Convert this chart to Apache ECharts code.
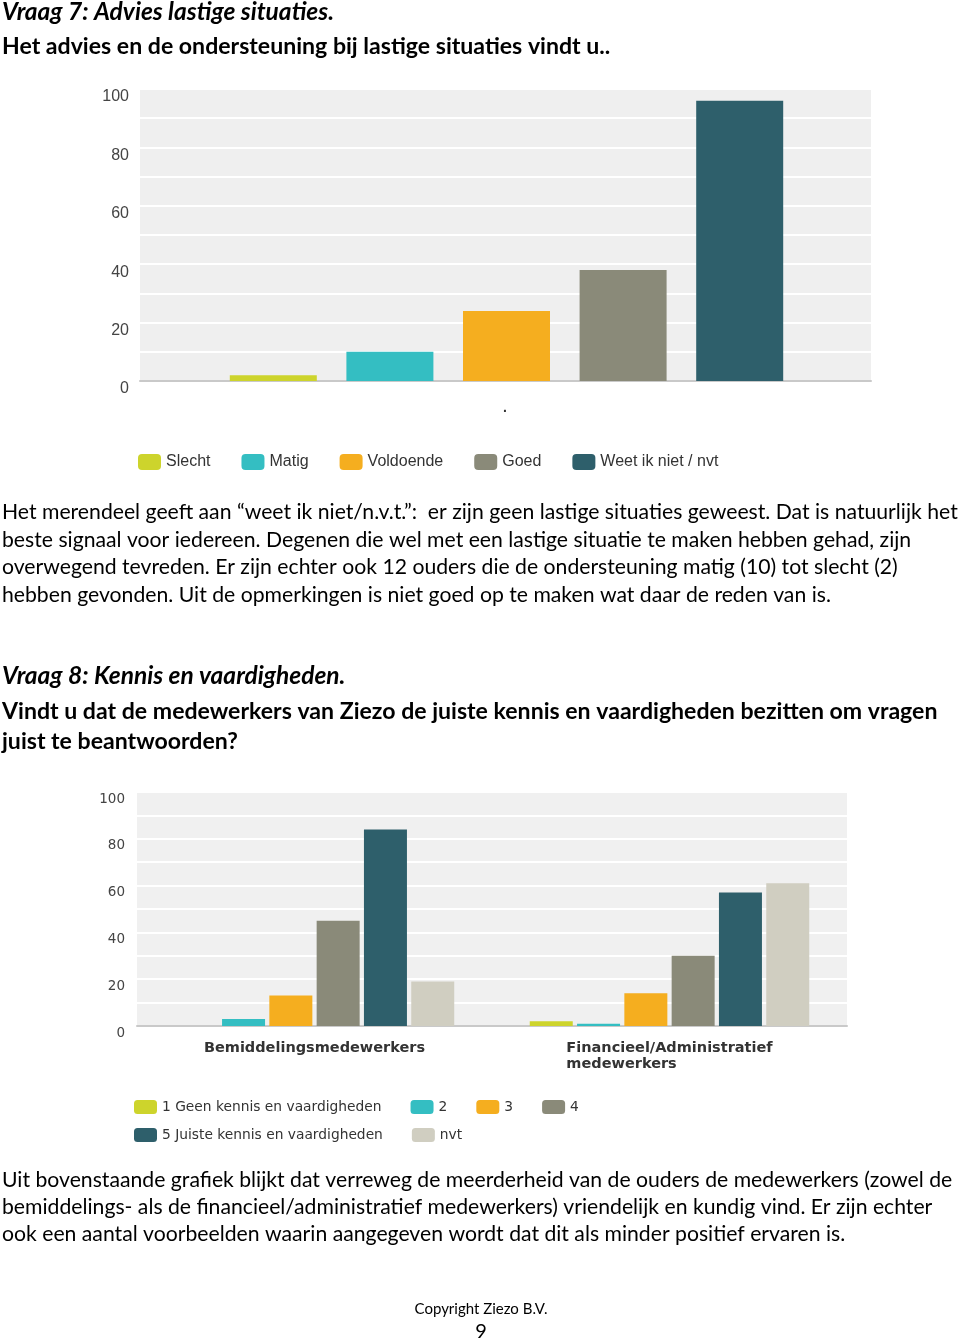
<!DOCTYPE html>
<html>
<head>
<meta charset="utf-8">
<script src="https://cdn.jsdelivr.net/npm/echarts@6/dist/echarts.min.js"></script>
<style>
html,body{margin:0;padding:0;background:#fff;}
#c{width:960px;height:1342px;}
</style>
</head>
<body>
<div id="c"></div>
<script>
// ---- data ----
const q7Categories = ['Slecht', 'Matig', 'Voldoende', 'Goed', 'Weet ik niet / nvt'];
const q7Values = [2, 10, 24, 38, 96];
const q8Groups = ['Bemiddelingsmedewerkers', 'Financieel/Administratief\nmedewerkers'];
const q8SeriesNames = ['1 Geen kennis en vaardigheden', '2', '3', '4', '5 Juiste kennis en vaardigheden', 'nvt'];
const q8Bemiddeling = [0, 3, 13, 45, 84, 19];
const q8Financieel = [2, 1, 14, 30, 57, 61];
const yTickLabels = [0, 20, 40, 60, 80, 100];

// ---- styles ----
const q7Colors = ['#cdd42c', '#34bec2', '#f5ae1f', '#8a8a79', '#2e5f6b'];
const q8Colors = ['#cdd42c', '#34bec2', '#f5ae1f', '#8a8a79', '#2e5f6b', '#d0cec1'];
const BODY = 'Lato';

const chart = echarts.init(document.getElementById('c'), null, {renderer: 'canvas'});

function yAxisCommon(fontFamily, fontSize, gridIndex, show, margin) {
  return {
    type: 'value', gridIndex: gridIndex, min: 0, max: 100, interval: 10,
    show: show,
    axisLine: {show: false}, axisTick: {show: false},
    splitLine: {show: show, lineStyle: {color: '#ffffff', width: 2}},
    axisLabel: {
      show: show, margin: margin,
      verticalAlign: 'top',
      color: '#444',
      fontFamily: fontFamily, fontSize: fontSize,
      formatter: function (v) { return yTickLabels.indexOf(v) >= 0 ? String(v) : ''; }
    }
  };
}

const series = [];
q7Categories.forEach(function (name, i) {
  series.push({
    name: name, type: 'bar', stack: 'q7',
    xAxisIndex: 1, yAxisIndex: 1,
    barWidth: 87,
    itemStyle: {color: q7Colors[i]},
    data: q7Categories.map(function (c, j) { return j === i ? q7Values[i] : '-'; })
  });
});
q8SeriesNames.forEach(function (name, i) {
  series.push({
    name: name, type: 'bar',
    xAxisIndex: 2, yAxisIndex: 2,
    barWidth: 43, barGap: '10%',
    itemStyle: {color: q8Colors[i]},
    data: [q8Bemiddeling[i], q8Financieel[i]]
  });
});

const textLines = [
  {t: 'Vraag 7: Advies lastige situaties.', x: 2, y: 12, k: 'bi'},
  {t: 'Het advies en de ondersteuning bij lastige situaties vindt u..', x: 2, y: 47, k: 'b'},
  {t: 'Het merendeel geeft aan \u201cweet ik niet/n.v.t.\u201d:  er zijn geen lastige situaties geweest. Dat is natuurlijk het', x: 2, y: 512},
  {t: 'beste signaal voor iedereen. Degenen die wel met een lastige situatie te maken hebben gehad, zijn', x: 2, y: 540},
  {t: 'overwegend tevreden. Er zijn echter ook 12 ouders die de ondersteuning matig (10) tot slecht (2)', x: 2, y: 567},
  {t: 'hebben gevonden. Uit de opmerkingen is niet goed op te maken wat daar de reden van is.', x: 2, y: 595},
  {t: 'Vraag 8: Kennis en vaardigheden.', x: 2, y: 676, k: 'bi'},
  {t: 'Vindt u dat de medewerkers van Ziezo de juiste kennis en vaardigheden bezitten om vragen', x: 2, y: 712, k: 'b'},
  {t: 'juist te beantwoorden?', x: 2, y: 742, k: 'b'},
  {t: 'Uit bovenstaande grafiek blijkt dat verreweg de meerderheid van de ouders de medewerkers (zowel de', x: 2, y: 1180},
  {t: 'bemiddelings- als de financieel/administratief medewerkers) vriendelijk en kundig vind. Er zijn echter', x: 2, y: 1207},
  {t: 'ook een aantal voorbeelden waarin aangegeven wordt dat dit als minder positief ervaren is.', x: 2, y: 1234}
];
const fonts = {
  r: 'normal normal 21.2px ' + BODY,
  b: 'normal bold 23.1px ' + BODY,
  bi: 'italic bold 24.5px ' + BODY
};

const graphics = textLines.map(function (l) {
  return {
    type: 'text', x: l.x, y: l.y,
    style: {
      text: l.t, fill: '#000',
      font: fonts[l.k || 'r'],
      textAlign: 'left', textVerticalAlign: 'middle'
    }
  };
});
graphics.push({type: 'text', x: 481, y: 1309, style: {text: 'Copyright Ziezo B.V.', fill: '#000', font: '15px ' + BODY, textAlign: 'center', textVerticalAlign: 'middle'}});
graphics.push({type: 'text', x: 481, y: 1332, style: {text: '9', fill: '#000', font: '20px ' + BODY, textAlign: 'center', textVerticalAlign: 'middle'}});
graphics.push({type: 'text', x: 505, y: 408, style: {text: '.', fill: '#333', font: 'bold 14px Liberation Sans', textAlign: 'center', textVerticalAlign: 'middle'}});

const option = {
  animation: false,
  backgroundColor: '#ffffff',
  grid: [
    {left: 140, top: 89, width: 731, height: 292, show: true, backgroundColor: '#efefef', borderWidth: 0},
    {left: 215, top: 89, width: 583, height: 292},
    {left: 137, top: 792, width: 710, height: 234, show: true, backgroundColor: '#f0f0f0', borderWidth: 0}
  ],
  xAxis: [
    {type: 'category', gridIndex: 0, data: [''], axisTick: {show: false}, axisLabel: {show: false},
     axisLine: {show: true, lineStyle: {color: '#c9c9c9', width: 2}}},
    {type: 'category', gridIndex: 1, data: q7Categories, show: false},
    {type: 'category', gridIndex: 2, data: q8Groups, axisTick: {show: false},
     axisLine: {show: true, lineStyle: {color: '#c9c9c9', width: 2}},
     axisLabel: {
       margin: 14, color: '#333', fontFamily: 'DejaVu Sans', fontWeight: 'bold', fontSize: 14.5,
       formatter: function (v) { return v.split('\n').map(function (s) { return '{l|' + s + '}'; }).join('\n'); },
       rich: {l: {align: 'left', fontFamily: 'DejaVu Sans', fontWeight: 'bold', fontSize: 14.5, color: '#333', lineHeight: 16}}
     }}
  ],
  yAxis: [
    yAxisCommon('Liberation Sans', 16, 0, true, 11),
    yAxisCommon('Liberation Sans', 16, 1, false, 11),
    yAxisCommon('DejaVu Sans', 13.5, 2, true, 12)
  ],
  legend: [
    {data: q7Categories, left: 138, top: 454, padding: 0, itemWidth: 23, itemHeight: 16, itemGap: 31, icon: 'roundRect',
     textStyle: {fontFamily: 'Liberation Sans', fontSize: 16, color: '#333'}},
    {data: q8SeriesNames.slice(0, 4), left: 134, top: 1100, padding: 0, itemWidth: 23, itemHeight: 14, itemGap: 29, icon: 'roundRect',
     textStyle: {fontFamily: 'DejaVu Sans', fontSize: 13.8, color: '#333'}},
    {data: q8SeriesNames.slice(4), left: 134, top: 1128, padding: 0, itemWidth: 23, itemHeight: 14, itemGap: 29, icon: 'roundRect',
     textStyle: {fontFamily: 'DejaVu Sans', fontSize: 13.8, color: '#333'}}
  ],
  graphic: graphics,
  series: series
};
chart.setOption(option);
</script>
</body>
</html>
